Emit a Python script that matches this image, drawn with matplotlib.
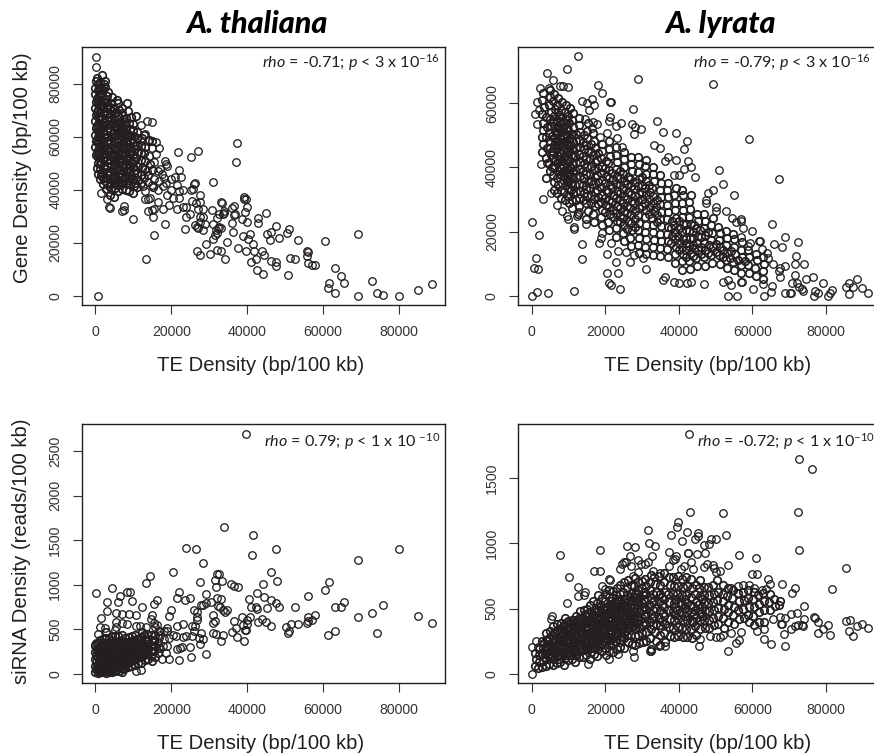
import matplotlib
matplotlib.use("Agg")
from matplotlib import pyplot as plt

W, H = 874, 756

# A. thaliana, gene density vs TE density
tha_gene_sparse = [(260,90400),(180,86400),(600,0),(13300,14000),(15500,22900),(9800,28900),(18300,27200),(37400,57900),(37000,50400),(21800,54500),(25200,52300),(27000,54600),(31100,43100),(14800,65500),(13600,65900),(12000,64400),(69200,23500),(60500,20900),(53400,21100),(50900,25200),(50400,23600),(47600,26500),(45100,23400),(46300,24000),(46000,21000),(48500,21900),(45000,31300),(42900,29300),(42800,27500),(40000,28000),(40000,33600),(39200,36500),(39600,36600),(39100,37500),(39300,31700),(38500,28900),(36800,30900),(36600,30400),(36500,34100),(35900,33100),(36100,27500),(36300,24000),(38900,22800),(40300,21500),(40700,23300),(41400,19600),(39800,16900),(37500,18000),(41700,17100),(43800,16900),(44500,15500),(42400,14100),(41000,12700),(42600,9800),(44100,8200),(46400,13100),(47600,13000),(47700,11300),(50800,8000),(51400,14300),(52600,13800),(55800,17000),(56000,16500),(55800,15000),(55900,12500),(57000,11700),(57900,11800),(63200,10600),(64700,7500),(65400,5000),(61500,4800),(61200,2900),(63000,1100),(69100,100),(73000,5600),(74300,1000),(75700,500),(80000,100),(85100,2100),(88700,4400),
(26800,17100),(27700,15300),(29100,19600),(30200,15700),(32000,17400),(33000,17000),(34200,14000),(34800,20500),(31100,21600),(31500,23000),(28400,24900),(23500,25200),(17000,48000),(18300,51000),(18600,50000),(19000,49000),(17500,46000),(18000,44500),(16500,47000),(15500,44000),(14800,42000),(14000,43000),(13000,39500),(14500,37000),(13200,36600),(14000,36800),(14000,32000),(15000,32500),(15500,32800),(15100,30000),(16500,35300),(17800,32700),(19000,38000),(19300,34500),(20000,40000),(20500,37000),(21000,45000),(21500,42000),(22000,47500),(22500,45000),(22000,39500),(23000,40000),(22000,37000),(21600,32700),(23100,33600),(24000,33500),(23800,30000),(25000,31000),(25200,40000),(25800,40500),(26000,42400),(26200,42500),(25500,36000),(26500,35000),(27000,33000),(27700,38000),(27700,35400),(28400,32800),(27500,30000),(28300,29700),(26300,26700),(26700,26000),(27100,25800),(27700,27900),(29000,27200),(31000,27000),(30700,32500),(32100,29500),(32500,31000),(33200,35500),(33300,35000),(34000,32000),(33500,31000),(34000,31500),(31800,24800),(32200,25500),(32600,26000),(33200,25500),(32000,23800),(15900,58000),(16700,56000),(16000,53500),(14800,56000),(13800,58500),(13000,61000),(14200,53000),(15500,50500),(16800,43500),(17800,41500),(16400,40000),(18700,42500),(19800,44000),(12500,41500),(13500,47000),(3500,33500),(3800,33200),(7000,32000),(7600,32300),(7500,34000),(3200,36500),(1500,39000)]
tha_gene_core = [(100,53200),(-100,56100),(150,58400),(-50,60900),(200,63600),(0,66200),(120,68400),(-80,71100),(160,73300),(30,76200),(-40,78600),(130,81200),(700,46000),(650,50200),(800,52400),(620,55100),(760,57600),(680,60100),(810,62400),(640,65100),(750,67600),(700,70100),(820,72400),(660,75100),(730,77600),(600,80200),(500,82400),(1100,44000),(1300,47800),(1150,50000),(1250,52300),(1050,54400),(1350,56500),(1100,58800),(1300,60700),(1150,62800),(1350,65100),(1050,67200),(1250,69500),(1100,71600),(1300,73800),(1150,76100),(1350,78400),(1200,80600),(1900,42200),(2100,44600),(1800,46900),(2200,49100),(1950,51200),(2150,53500),(1850,55600),(2050,57800),(2200,60100),(1900,62200),(2150,64500),(1800,66700),(2100,68900),(1950,71000),(2200,73300),(1850,75500),(2050,77700),(2200,79900),(1800,83500),(2500,81000),(2900,40300),(3100,42500),(2800,44700),(3200,46800),(2950,49100),(3150,51300),(2850,53500),(3050,55700),(3250,57800),(2900,60000),(3100,62300),(2800,64500),(3200,66600),(3000,68900),(3150,71000),(2850,73200),(3050,75400),(3300,77000),(3900,38000),(4100,40400),(3800,42600),(4200,44700),(3950,46900),(4150,49000),(3850,51300),(4050,53400),(4250,55600),(3900,57900),(4100,60100),(3800,62200),(4200,64400),(4000,66600),(4150,68800),(3850,71000),(4050,73000),(4300,75000),(4950,37500),(5100,40600),(4800,42800),(5200,45000),(4950,47200),(5150,49300),(4850,51500),(5050,53700),(5250,55900),(4900,58100),(5100,60300),(4800,62500),(5200,64700),(5000,66900),(5150,69000),(4850,71100),(5600,73800),(5950,39500),(6100,41800),(5800,44000),(6200,46200),(5950,48300),(6150,50500),(5850,52700),(6050,54900),(6250,57100),(5900,59300),(6100,61500),(5800,63700),(6200,65800),(6000,68000),(6150,70200),(6000,73000),(6900,40200),(7100,42700),(6800,44900),(7200,47000),(6950,49300),(7150,51400),(6850,53700),(7050,55800),(7250,58000),(6900,60300),(7100,62400),(6800,64600),(7200,66800),(7000,69000),(7150,71000),(7950,40000),(8100,42800),(7800,45100),(8200,47300),(7950,49600),(8150,51700),(7850,54000),(8050,56200),(8250,58300),(7900,60600),(8100,62800),(7800,65000),(8200,67200),(8500,70000),(8400,72700),(8950,39800),(9100,42400),(8800,44700),(9200,47100),(8950,49400),(9150,51600),(8850,53900),(9050,56100),(9250,58400),(8900,60600),(9100,62900),(9000,65300),(9300,67500),(9900,39000),(10100,41600),(9800,44000),(10200,46400),(9900,48700),(10100,51000),(9800,53300),(10200,55600),(9900,58000),(10100,60400),(9800,62700),(10000,65000),(10700,67800),(11000,41000),(11200,43800),(10900,46600),(11100,49200),(10800,51900),(11200,54500),(11000,57100),(11100,59600),(10900,62000),(12100,42800),(11900,45700),(12200,48500),(11900,51300),(12100,54000),(12000,56800),(12200,59500),(12800,60900),(12700,44700),(13000,48000),(13200,51000),(12800,53800),(13100,56400),(14000,45500),(14300,50000),(14100,59000),(15000,47500),(15200,41000),(15000,58500)]
tha_gene_extra = [(500,48500),(450,54000),(500,59000),(450,64000),(500,69500),(450,74500),(1600,45500),(1550,50600),(1650,55000),(1550,59500),(1650,63500),(1550,68000),(1650,72300),(1550,76800),(2500,43500),(2550,48000),(2450,52400),(2550,56700),(2450,61100),(2550,65600),(2450,70000),(2550,74300),(2500,78700),(3500,41500),(3450,45800),(3550,50200),(3450,54500),(3550,59000),(3450,63300),(3550,67700),(3450,72100),(4500,43700),(4550,48100),(4450,52400),(4550,56900),(4450,61300),(4550,65800),(4500,70000),(5500,42900),(5450,47700),(5550,51900),(5450,56400),(5550,60800),(5450,65300),(5550,69600),(6500,43500),(6450,47600),(6550,52200),(6450,56500),(6550,60900),(6450,65200),(7500,43800),(7550,48200),(7450,52700),(7550,57000),(7450,61500),(7550,65800),(8500,43600),(8550,48400),(8450,52800),(8550,57200),(8450,61700),(9500,45500),(9550,50200),(9450,54700),(9550,59200),(10500,42800),(10550,47500),(10450,52400),(10550,56800)]

# A. lyrata, gene density vs TE density
lyr_gene_sparse = [(12700,74600),(4100,69300),(9500,70800),(5800,67300),(29000,67500),(49400,66100),(18000,65800),(19200,63300),(21300,60400),(21500,60400),(27500,58200),(21200,55800),(20900,54600),(24200,53800),(22900,52900),(27200,53500),(28200,52500),(29800,52100),(27800,50300),(34000,54500),(35600,51200),(39300,50800),(42200,48100),(41500,45800),(35000,46000),(33300,47000),(59200,48800),(67200,36400),(51000,39300),(51900,35000),(54900,31300),(44400,37100),(42600,41900),(43300,40100),(41400,39500),(40100,37800),(38700,37700),(39200,42300),(37100,43200),(36300,42100),
(3200,30100),(200,23000),(2000,19000),(1200,11700),(600,8600),(1600,8500),(1400,1100),(0,0),(4400,1000),(11400,1700),(13800,11400),(13800,16300),(11500,21600),(11500,21000),(14900,22400),(20600,13000),(23000,10500),(20500,7200),(23500,7200),(20900,3900),(21700,3300),(23900,2200),(31100,8300),(26800,10600),(27700,12800),(30200,11900),(23400,14100),(25600,13600),(21700,16400),(18200,16400),(18900,17900),(19000,19500),
(35800,4900),(36300,6000),(38700,4300),(40000,4000),(42200,4000),(43300,4500),(46800,3700),(52000,4500),(53500,5000),(54200,3500),(57000,4400),(57200,4400),(53400,0),(55800,0),(60200,2100),(63100,0),(62800,3600),(65100,1400),(65300,3100),(69000,1000),(70300,1000),(70600,1000),(70700,3900),(72100,3900),(72700,2900),(73500,2300),(73900,1700),(74500,5200),(76400,6000),(71700,6500),(74000,10000),(71700,10000),(71800,12600),(72400,16900),(68800,18500),(68000,15300),(66000,16100),(65300,22400),(68800,9400),(67600,8600),(67300,7700),(67600,5800),(65600,10000),(79100,4100),(76700,0),(77100,1600),(78000,800),(80500,0),(81200,800),(81800,1900),(85400,2900),(86300,600),(86400,3900),(87500,2700),(88600,5200),(89800,2600),(91600,900),
(49200,33000),(48000,32200),(47400,29900),(47400,28900),(50200,27600),(50100,26600),(52800,26600),(54400,24200),(55600,22900),(57000,23900),(57000,23200),(57600,21300),(59900,20300),(56900,18500),(58800,15700),(59400,16600),(61900,17200),(62100,17200),(62600,14500),(63900,13300),(64400,11700),
(13600,60700),(15000,60000),(16300,61300),(17000,59600),(15700,57900),(14400,55000),(16800,54300),(17700,53600),(16300,52200),(18600,49600),(20400,50700),(23100,49100),(24500,46500),(4600,64700),(7700,65400),(8600,65500),(10000,65200),(2300,64700),(1500,60500),(2100,57900),(900,56700),(1500,53500),(2500,41000),(4100,41300),(5200,32200),(6800,28200),(8300,26500),(9500,25000),(10000,24000),(12200,25000),(13000,26000)]
lyr_gene_core = [(2900,44900),(3100,47300),(2800,49500),(3200,51800),(3000,54000),(2700,56500),(3300,58800),(2900,61000),(3100,63300),(4000,36700),(5000,39000),(4800,41500),(5200,43800),(4900,46100),(5100,48300),(4800,50600),(5300,52800),(4900,55100),(5200,57400),(4800,59600),(5100,61900),(5000,64100),(6000,33000),(6200,35500),(5900,37800),(6100,40100),(6300,42400),(5900,44700),(6200,47000),(6000,49200),(6300,51500),(5900,53800),(6100,56000),(6300,58300),(5900,60600),(6200,62900),(6800,32000),(7100,34400),(6900,36700),(7200,39000),(6800,41300),(7100,43500),(6900,45800),(7200,48100),(6800,50400),(7100,52600),(6900,54900),(7200,57200),(6800,59500),(7100,61700),(8100,30500),(7900,33000),(8200,35300),(7900,37600),(8100,39900),(8300,42100),(7900,44400),(8200,46700),(8000,49000),(8300,51200),(7900,53500),(8200,55800),(8000,58000),(8300,60300),(9100,30000),(8900,32300),(9200,34600),(8900,36900),(9100,39200),(9300,41400),(8900,43700),(9200,46000),(9000,48300),(9300,50500),(8900,52800),(9200,55100),(9000,57300),(9300,59600),(10100,28800),(9900,31100),(10200,33400),(9900,35700),(10100,38000),(10300,40200),(9900,42500),(10200,44800),(10000,47100),(10300,49300),(9900,51600),(10200,53900),(10000,56100),(10300,58400),(11100,27500),(10900,29800),(11200,32100),(10900,34400),(11100,36700),(11300,38900),(10900,41200),(11200,43500),(11000,45800),(11300,48000),(10900,50300),(11200,52600),(11000,54800),(11300,57100),(12500,25500),(13000,28000),(12800,30400),(13200,32700),(12900,35000),(13100,37200),(12800,39500),(13200,41800),(12900,44100),(13100,46300),(12800,48600),(13200,50900),(13000,53100),(12900,55400),(14800,24000),(15200,26500),(14900,28800),(15100,31100),(14800,33400),(15200,35600),(14900,37900),(15100,40200),(14800,42500),(15200,44700),(14900,47000),(15100,49300),(15000,51500),(15300,53800),(17000,23000),(16800,25600),(17200,27900),(16900,30200),(17100,32500),(16800,34800),(17200,37000),(16900,39300),(17100,41600),(16800,43900),(17200,46100),(17000,48400),(16800,50700),(19100,22000),(18900,24600),(19200,26900),(18900,29200),(19100,31500),(18800,33800),(19200,36000),(18900,38300),(19100,40600),(18800,42900),(19200,45100),(19000,47400),(21000,20500),(20800,23000),(21200,25400),(20900,27700),(21100,30000),(20800,32300),(21200,34600),(20900,36800),(21100,39100),(20800,41400),(21200,43700),(21000,45900),(21100,48200),(23000,18500),(22800,21200),(23200,23500),(22900,25800),(23100,28100),(22800,30400),(23200,32600),(22900,34900),(23100,37200),(22800,39500),(23200,41700),(23000,44000),(22900,46300),(25100,17200),(24900,19700),(25200,22000),(24900,24300),(25100,26600),(24800,28900),(25200,31200),(24900,33400),(25100,35700),(24800,38000),(25200,40300),(25000,42500),(25100,44800),(27000,15500),(26800,18200),(27200,20500),(26900,22800),(27100,25100),(26800,27400),(27200,29700),(26900,31900),(27100,34200),(26800,36500),(27200,38800),(27000,41000),(26900,43300),(29100,13300),(28900,15900),(29200,18200),(28900,20500),(29100,22800),(28800,25100),(29200,27400),(28900,29600),(29100,31900),(28800,34200),(29200,36500),(29000,38700),(29100,41000),(28900,43200),(31000,13000),(30800,15300),(31200,17600),(30900,19900),(31100,22200),(30800,24500),(31200,26800),(30900,29000),(31100,31300),(30800,33600),(31200,35900),(31000,38100),(30900,40400),(31100,42400),(33100,12800),(32900,15200),(33200,17500),(32900,19800),(33100,22100),(32800,24400),(33200,26600),(32900,28900),(33100,31200),(32800,33500),(33200,35700),(33000,38000),(33100,40200),(35000,12300),(34800,14800),(35200,17100),(34900,19400),(35100,21700),(34800,24000),(35200,26200),(34900,28500),(35100,30800),(34800,33100),(35200,35300),(35000,37600),(37100,12000),(36900,14700),(37200,17000),(36900,19300),(37100,21600),(36800,23900),(37200,26100),(36900,28400),(37100,30700),(36800,33000),(37200,35200),(39100,10300),(38900,13000),(39200,15300),(38900,17600),(39100,19900),(38800,22200),(39200,24400),(38900,26700),(39100,29000),(38800,31300),(39200,33500),(41000,8200),(40800,10800),(41200,13100),(40900,15400),(41100,17700),(40800,20000),(41200,22300),(40900,24500),(41100,26800),(40800,29100),(41200,31400),(41000,33000),(43100,8400),(42900,11000),(43200,13300),(42900,15600),(43100,17900),(42800,20200),(43200,22400),(42900,24700),(43100,27000),(42800,29300),(43200,31500),(45000,9300),(44800,11900),(45200,14200),(44900,16500),(45100,18800),(44800,21100),(45200,23400),(44900,25600),(47100,9400),(46900,12000),(47200,14300),(46900,16600),(47100,18900),(46800,21200),(47200,23500),(46900,25500),(49000,10200),(48800,12800),(49200,15100),(48900,17400),(49100,19700),(48800,22000),(49200,24200),(51100,10100),(50900,12800),(51200,15100),(50900,17400),(51100,19700),(50800,21500),(53000,8600),(52800,11200),(53200,13500),(52900,15800),(53100,18100),(52800,20200),(55000,8200),(54800,10700),(55200,13000),(54900,15300),(55100,17600),(54800,19300),(57000,7300),(56800,9800),(57200,12100),(56900,14400),(57100,16700),(59000,7200),(58800,9700),(59200,12000),(58900,14300),(61000,6300),(60800,8800),(61200,11100),(60900,13000),(63000,5300),(62800,7800),(63200,10100),(62900,12000),(7500,47000),(7600,49300),(8600,47800),(8500,50100),(6500,48400),(6600,50700),(9500,45000),(9600,47400),(7500,52000),(8600,52500),(6600,46000),(9600,50000),(10700,47000),(10600,44000),(24000,27500),(26000,25800),(26000,28000),(28000,26500),(24000,25000),(42000,18000),(44000,18000),(44000,20000),(42000,20500),(46000,18500)]
lyr_gene_extra = [(4000,43000),(4100,46200),(3900,49400),(4200,52500),(4000,55800),(5600,40300),(5700,42900),(5500,45200),(5600,49700),(5700,54400),(7500,37900),(7600,40200),(7400,42500),(7500,44700),(7600,54100),(7400,56300),(8600,38500),(8500,40800),(8700,43000),(8500,45300),(8600,54500),(9600,35500),(9700,37700),(9500,40000),(9600,42200),(9700,52400),(9500,54700),(10700,33000),(10600,35200),(10800,37500),(10600,39700),(10700,50500),(12000,30000),(12100,32400),(11900,34700),(12100,36900),(11900,39200),(12100,41400),(11900,43700),(12100,46000),(12000,48300),(12100,50500),(14000,29900),(14100,32200),(13900,34500),(14100,36700),(13900,39000),(14100,41200),(13900,43500),(14100,45800),(14000,48000),(14100,50200),(16000,29000),(16100,31300),(15900,33600),(16100,35800),(15900,38100),(16100,40400),(15900,42600),(16100,44900),(16000,47200),(18000,28500),(18100,30800),(17900,33100),(18100,35400),(17900,37600),(18100,39900),(17900,42200),(18100,44400),(20000,26000),(20100,28300),(19900,30600),(20100,32900),(19900,35100),(20100,37400),(19900,39700),(20100,41900),(22000,24600),(22100,26900),(21900,29200),(22100,31500),(21900,33700),(22100,36000),(21900,38300),(24000,22900),(24100,29800),(23900,32100),(24100,34400),(23900,36600),(24100,38900),(26000,21000),(26100,23300),(25900,30300),(26100,32500),(25900,34800),(26100,37100),(28000,21600),(28100,23900),(27900,28800),(28100,31100),(27900,33400),(28100,35600),(30000,27900),(30100,30200),(29900,32500),(30100,34700),(29900,37000),(32000,25500),(32100,27800),(31900,30100),(32100,32300),(31900,34600),(34000,23000),(34100,25300),(33900,27600),(34100,29900),(38000,16500),(38100,18800),(37900,21100),(38100,23400),(40000,14200),(40100,16500),(39900,18800),(40100,21100),(40000,23300),(42000,12000),(42100,14300),(41900,16500),(42100,22500),(44000,12500),(44100,14800),(43900,16000),(44100,22200),(46000,13100),(46100,15400),(45900,20700),(48000,13500),(48100,15800),(47900,20000),(50000,13800),(50100,16100),(52000,12000),(52100,14300),(54000,11800),(54100,14100),(56000,11200),(58000,10900)]

# A. thaliana, siRNA density vs TE density
tha_sirna_sparse = [(39800,2695),(34000,1653),(41600,1559),(41300,1334),(47600,1402),(23900,1413),(26400,1398),(28400,1248),(69200,1278),(80000,1398),(20400,1143),(14400,1098),(13300,1016),(32000,1117),(32700,1124),(31500,1053),(33300,1038),(31900,971),(27700,1027),(35800,1008),(36600,982),(37600,978),(44200,1012),(46300,1147),(47800,1038),(61500,1027),(60400,941),(55900,870),(22000,918),(29100,896),(42700,911),(44500,866),(46200,825),(47600,791),(48500,753),(52600,746),(40400,836),(41000,753),(42400,753),(42700,723),(45200,735),(63200,753),(64600,753),(65400,802),(75700,772),(73000,678),(69100,637),(85100,645),(88700,566),(74300,457),(63000,476),(61300,438),(57800,656),(57100,603),(56100,596),(55800,566),(55900,633),(53500,555),(51500,555),(50200,528),(50900,483),(50800,461),(46400,540),(45000,577),(43800,618),(42800,585),(40800,637),(39900,603),(38700,633),(40000,562),(39000,547),(39400,491),(39600,488),(39200,371),(37400,412),(37000,510),(36100,472),(36500,596),(34800,716),(34200,697),(33500,716),(32800,753),(32400,765),(32100,847),(33000,836),(30400,810),(29100,791),(27800,768),(28400,772),(26000,712),(26900,697),(26900,633),(26700,603),(26300,536),(25500,536),(24900,855),(23600,828),(21600,847),(20000,716),(19300,652),(21600,540),(23100,562),(30900,656),(31100,566),(31500,596),(30900,453),(31800,450),(33600,438),(33000,364),(29200,225),(25300,191),(22000,154),(27600,330),(27400,397),(25400,423),(28400,390),(23000,408),(21200,423),(24900,304),(22800,304),(21400,274),(22200,285),
(200,903),(4500,967),(8300,915),(9100,918),(6600,877),(5900,802),(3000,810),(9700,821),(3200,708),(5400,678),(1500,626),(7100,667),(8900,675),(10700,663),(12400,753),(15500,780),(16200,828),(14800,656),(14700,618),(5400,585),(6900,566),(8300,558),(5400,528),(1200,528),(2500,510),(600,442),(5200,491),(10600,536),(11700,536),(13300,528),(16200,547),(15800,530),(18800,510),(15500,566),(100,341),(0,315),(12000,40),(10800,25),(19400,170),(17500,160),(18500,230),(19000,310),(17800,310),(18200,390),(17000,440),(19500,400),(20500,430),(18000,480),(16800,400),(19000,480),(24000,420),(26000,480),(27800,460)]
tha_sirna_core = [(-200,20),(100,50),(-100,90),(200,130),(0,170),(-150,240),(-200,320),(700,10),(800,50),(600,100),(850,140),(700,190),(800,240),(650,290),(800,340),(1300,15),(1200,60),(1400,110),(1150,160),(1350,210),(1200,270),(1400,320),(1300,380),(1900,20),(2100,70),(1800,120),(2200,170),(1900,230),(2100,280),(1800,340),(2200,400),(2800,10),(2700,60),(3000,115),(2700,170),(2900,225),(2700,285),(3000,340),(2800,400),(2900,470),(3600,20),(3500,70),(3800,120),(3500,175),(3700,230),(3500,290),(3800,345),(3600,400),(4400,15),(4400,65),(4600,125),(4300,180),(4500,235),(4300,290),(4600,350),(4400,420),(5300,25),(5200,80),(5400,135),(5100,190),(5300,250),(5100,305),(5400,360),(5200,420),(6200,30),(6000,85),(6200,145),(5900,200),(6100,255),(5900,310),(6200,365),(6000,425),(7000,20),(6900,100),(7100,155),(6800,210),(7000,270),(6800,325),(7100,380),(6900,440),(7800,65),(7700,120),(7900,175),(7600,230),(7800,285),(7600,340),(7900,400),(8700,75),(8500,130),(8800,185),(8500,240),(8700,300),(8500,355),(8800,410),(9500,90),(9300,145),(9600,200),(9300,255),(9500,310),(9300,365),(9600,425),(10400,100),(10200,155),(10500,210),(10200,265),(10400,325),(10200,380),(10500,440),(11200,125),(11000,175),(11300,230),(11000,285),(11200,340),(11000,395),(12100,125),(11900,190),(12200,245),(11900,300),(12100,355),(11900,410),(12200,470),(13000,155),(12800,215),(13100,270),(12800,325),(13000,380),(12800,440),(13900,165),(13700,225),(14000,280),(13700,335),(13900,390),(13700,450),(14800,140),(14600,200),(14900,260),(14600,320),(14800,375),(14600,440),(15700,190),(15500,250),(15800,310),(15500,365),(15700,430),(16500,230),(16700,290),(16400,350),(16700,480),(1000,25),(2400,40),(3200,35),(4000,45),(600,70),(1600,90),(2400,95),(3200,90),(4800,95),(5700,55),(6500,60),(7300,55),(1600,140),(2400,145),(3200,145),(4000,150),(4800,155),(5600,165),(6500,120),(7300,130),(8100,100)]
tha_sirna_extra = [(300,210),(350,280),(1000,230),(1050,300),(1700,260),(1650,200),(2400,200),(2450,250),(2350,310),(3200,200),(3250,260),(3150,315),(4000,205),(4050,265),(3950,320),(4800,220),(4850,275),(4750,330),(5700,230),(5650,285),(6500,240),(6550,300),(6450,350),(7300,200),(7350,260),(7250,315),(8200,150),(8150,210),(8250,265),(8150,320),(9000,170),(9050,225),(8950,280),(9050,335),(9900,180),(9950,235),(9850,290),(10800,200),(10750,255),(10850,310),(11600,210),(11650,265),(11550,320),(12500,235),(12450,290),(13400,250),(13350,300)]

# A. lyrata, siRNA density vs TE density
lyr_sirna_sparse = [(42700,1838),(72700,1649),(76300,1569),(72400,1242),(43000,1244),(52100,1234),(72600,947),(85500,809),(81600,653),(7600,911),(10200,742),(18600,947),(31700,1106),(39800,1165),(39500,1129),(37800,1067),(42300,1088),(40800,1019),(45300,1080),(45200,1057),(44300,1037),(46800,986),(48100,993),(48900,1034),(50100,1037),(52900,1065),(25800,983),(28200,970),(32000,1003),(33600,980),(32700,901),(26800,903),(37400,937),(39300,906),(42400,924),(42600,924),(45000,916),(47100,926),(56400,911),(61000,891),(53300,834),(49400,834),(60000,768),(61300,763),(68200,691),(71700,660),(70700,617),(64400,730),(17000,791),(18600,788),(12700,668),(12600,596),(14400,627),(14100,600),(9500,540),(5400,445),(5200,417),(200,205),(1300,253),(0,0),(1600,207),
(53400,177),(55600,233),(56500,256),(63200,266),(65100,228),(69000,215),(68700,302),(61400,328),(63200,340),(65700,420),(67600,433),(68900,428),(67800,379),(68200,379),(70500,340),(71700,369),(70400,456),(72100,468),(72300,376),(73500,376),(73700,366),(74000,417),(74000,522),(76800,433),(77100,428),(78000,400),(77900,315),(79200,346),(80700,374),(81200,300),(85500,407),(86500,410),(86200,328),(87400,292),(88500,364),(89800,384),(91600,353),(48500,292),(50000,280),(51200,278),(52000,298),(54200,310),(56900,322),(45500,215),(45800,264),(34500,212),(36200,215),(32200,177),(32500,177),(27600,177),(27700,125),(21000,115),(23400,148),(15400,72),(28800,870),(29700,840),(30700,840),(31500,860),(33000,790),(35000,770),(37300,830),(38300,870),(39000,880),(40500,800),(41400,830),(43300,860),(44000,800),(47000,820),(47800,840),(49500,810),(50100,780),(51300,790),(24000,800),(25000,860),(25700,860),(27000,830),(27500,750),(29000,780),(24500,840),(21000,730),(21300,720),(19000,670),(20000,650),(54200,660),(56000,670),(57500,680),(59000,680),(60500,660),(62700,640),(63800,650),(64700,690)]
lyr_sirna_core = [(1000,60),(1100,110),(900,160),(1800,40),(2000,90),(1900,140),(2100,190),(2800,50),(3000,100),(2900,150),(3100,200),(2800,250),(3800,60),(4000,110),(3900,160),(4100,210),(3800,260),(4000,310),(4800,75),(5000,125),(4900,175),(5100,225),(4800,275),(5000,325),(5800,65),(6000,115),(5900,165),(6100,215),(5800,265),(6000,315),(5900,365),(6800,85),(7000,135),(6900,185),(7100,235),(6800,285),(7000,335),(6900,385),(7800,90),(8000,140),(7900,190),(8100,240),(7800,290),(8000,340),(7900,390),(8900,65),(9000,120),(8900,170),(9100,220),(8800,270),(9000,320),(8900,370),(9100,425),(9800,105),(10000,155),(9900,205),(10100,255),(9800,305),(10000,355),(9900,405),(10900,115),(11000,165),(10900,215),(11100,265),(10800,315),(11000,365),(10900,415),(11800,90),(12000,140),(11900,190),(12100,240),(11800,290),(12000,340),(11900,390),(12100,440),(12900,125),(13000,175),(12900,225),(13100,275),(12800,325),(13000,375),(12900,425),(13100,480),(13900,130),(14000,180),(13900,230),(14100,280),(13800,330),(14000,380),(13900,430),(14100,485),(14900,140),(15000,190),(14900,240),(15100,290),(14800,340),(15000,390),(14900,440),(15100,495),(15900,110),(16000,170),(15900,220),(16100,270),(15800,320),(16000,370),(15900,420),(16100,475),(15800,530),(16900,150),(17000,200),(16900,250),(17100,300),(16800,350),(17000,400),(16900,450),(17100,500),(16800,555),(17900,135),(18000,190),(17900,240),(18100,290),(17800,340),(18000,390),(17900,440),(18100,490),(17800,545),(18000,600),(19000,175),(19100,225),(18900,275),(19200,325),(19000,375),(18900,425),(19100,475),(18900,525),(19100,580),(20100,145),(20000,200),(20200,250),(19900,300),(20100,350),(19900,400),(20200,450),(20000,500),(19900,555),(20100,610),(21100,175),(21000,230),(21200,280),(20900,330),(21100,380),(20900,430),(21200,480),(21000,530),(20900,585),(21100,640),(22100,170),(22000,225),(22200,275),(21900,325),(22100,375),(21900,425),(22200,475),(22000,525),(21900,580),(22100,635),(23200,190),(23000,245),(23200,295),(22900,345),(23100,395),(22900,445),(23200,495),(23000,545),(22900,600),(23100,660),(24100,205),(24000,260),(24200,310),(23900,360),(24100,410),(23900,460),(24200,510),(24000,560),(23900,615),(24100,680),(25200,195),(25000,270),(25200,320),(24900,370),(25100,420),(24900,470),(25200,520),(25000,570),(24900,630),(25100,700),(26200,240),(26000,300),(26200,350),(25900,400),(26100,450),(25900,500),(26200,550),(26000,600),(25900,660),(26100,720),(27200,225),(27000,300),(27200,360),(26900,410),(27100,460),(26900,510),(27200,560),(27000,620),(26900,680),(28200,220),(28000,290),(28200,350),(27900,400),(28100,450),(27900,505),(28200,560),(28000,615),(27900,675),(28100,735),(29200,235),(29000,300),(29200,360),(28900,415),(29100,470),(28900,525),(29200,580),(29000,640),(28900,700),(30200,240),(30000,310),(30200,370),(29900,430),(30100,485),(29900,540),(30200,600),(30000,655),(29900,715),(31200,250),(31000,320),(31200,380),(30900,440),(31100,500),(30900,555),(31200,610),(31000,670),(30900,730),(32500,190),(32300,270),(32500,340),(32200,400),(32400,460),(32200,520),(32500,580),(32300,640),(32200,700),(32400,755),(33700,250),(33500,320),(33700,385),(33400,445),(33600,505),(33400,565),(33700,625),(33500,685),(33400,745),(35000,220),(34800,300),(35000,370),(34700,430),(34900,490),(34700,555),(35000,615),(34800,680),(34700,750),(36200,240),(36000,310),(36200,380),(35900,445),(36100,510),(35900,570),(36200,630),(36000,700),(35900,770),(37500,290),(37300,355),(37500,420),(37200,485),(37400,550),(37200,610),(37500,680),(37300,745),(38700,285),(38500,350),(38700,415),(38400,480),(38600,545),(38400,610),(38700,675),(38500,745),(39900,290),(39700,355),(39900,420),(39600,485),(39800,545),(39600,610),(39900,675),(39700,750),(41100,285),(40900,350),(41100,415),(40800,475),(41000,535),(40800,600),(41100,665),(40900,730),(42300,280),(42100,345),(42300,410),(42000,475),(42200,540),(42000,600),(42300,670),(42100,745),(43500,270),(43300,340),(43500,405),(43200,470),(43400,530),(43200,590),(43500,655),(43300,725),(44700,300),(44500,365),(44700,430),(44400,490),(44600,550),(44400,610),(44700,680),(45900,345),(45700,410),(45900,475),(45600,535),(45800,595),(45600,655),(45900,720),(47100,350),(46900,415),(47100,480),(46800,540),(47000,600),(46800,665),(48300,350),(48100,415),(48300,480),(48000,540),(48200,600),(48000,665),(49600,370),(49400,430),(49600,490),(49300,550),(49500,610),(49300,680),(50800,385),(50600,445),(50800,505),(50500,565),(50700,625),(50500,720),(52200,350),(52000,430),(52200,495),(51900,555),(52100,615),(51900,680),(53500,400),(53300,470),(53500,530),(53200,595),(53400,660),(54900,380),(54700,450),(54900,515),(54600,580),(54800,640),(56300,420),(56100,490),(56300,555),(56000,620),(57700,430),(57500,500),(57700,565),(57400,630),(59100,400),(58900,450),(59100,515),(58800,580),(58900,640),(60500,370),(60300,440),(60500,510),(60200,575),(60400,625),(61900,400),(61700,470),(61900,535),(61600,605),(63300,400),(63100,490),(63300,560),(63000,620),(64700,490),(64500,550),(64800,610),(66100,520),(66000,570),(67300,530),(67500,560)]
lyr_sirna_extra = [(3400,130),(3500,185),(3350,235),(4400,140),(4500,195),(4400,250),(5400,145),(5500,195),(5400,245),(5450,300),(6400,150),(6500,210),(6400,260),(6450,310),(7400,110),(7500,165),(7400,215),(7450,265),(7400,315),(8400,165),(8500,215),(8400,265),(8450,315),(8400,365),(9400,140),(9500,190),(9400,240),(9450,290),(9400,340),(9400,390),(10400,140),(10500,190),(10400,240),(10450,290),(10400,340),(10400,390),(11400,165),(11500,215),(11400,265),(11450,315),(11400,365),(11400,415),(12400,160),(12500,210),(12400,260),(12450,310),(12400,360),(12400,410),(13400,205),(13500,255),(13400,305),(13450,355),(13400,405),(14400,210),(14500,260),(14400,310),(14450,360),(14400,410),(14400,460),(15400,215),(15500,265),(15400,315),(15450,365),(15400,415),(15400,465),(16400,195),(16500,245),(16400,295),(16450,345),(16400,395),(16400,445),(17400,225),(17500,275),(17400,325),(17450,375),(17400,425),(17400,475),(18500,215),(18600,265),(18500,315),(18550,365),(18500,415),(18500,465),(18500,515),(19500,250),(19600,300),(19500,350),(19550,400),(19500,450),(19500,500),(20600,265),(20700,315),(20600,365),(20650,415),(20600,465),(20600,515),(21600,255),(21700,305),(21600,355),(21650,405),(21600,455),(21600,505),(21600,555),(22600,250),(22700,300),(22600,350),(22650,400),(22600,450),(22600,500),(22600,550),(23600,320),(23700,370),(23600,420),(23650,470),(23600,520),(23600,570),(24600,290),(24700,345),(24600,395),(24650,445),(24600,495),(24600,545),(25700,325),(25800,375),(25700,425),(25750,475),(25700,525),(25700,575),(26700,380),(26800,430),(26700,480),(26750,530),(26700,590),(27700,375),(27800,425),(27700,475),(27750,530),(27700,585),(28700,385),(28800,440),(28700,495),(28750,550),(28700,610),(30600,400),(30700,460),(30600,515),(30650,575),(30600,630),(32900,370),(33000,430),(32900,490),(32950,550),(32900,610),(35500,405),(35600,465),(35500,525),(35550,590),(39000,450),(39100,515),(39000,575),(41700,445),(41800,505),(41700,570),(44000,400),(44100,460),(44000,520),(46300,445),(46400,510),(46300,570)]

x_ticks = [0, 20000, 40000, 60000, 80000]
gene_tha_ticks = [0, 20000, 40000, 60000, 80000]
gene_lyr_ticks = [0, 20000, 40000, 60000]
sirna_tha_ticks = [0, 500, 1000, 1500, 2000, 2500]
sirna_lyr_ticks = [0, 500, 1000, 1500]

plt.rcParams['font.family'] = ['Liberation Sans', 'DejaVu Sans']
plt.rcParams['mathtext.fontset'] = 'custom'
plt.rcParams['mathtext.rm'] = 'Lato'
plt.rcParams['mathtext.it'] = 'Lato:italic'
plt.rcParams['mathtext.default'] = 'regular'

fig = plt.figure(figsize=(W / 100, H / 100), dpi=100)
ink = '#231f20'


def panel(left, top, right, bottom, xlim, ylim, yticks, sparse, dense):
    ax = fig.add_axes([left / W, 1 - bottom / H, (right - left) / W, (bottom - top) / H])
    ax.plot([p[0] for p in sparse], [p[1] for p in sparse], 'o', ms=5.4, mfc='none', mec=ink, mew=0.95)
    # the real cloud holds far more points than were typed, heavier rings make up for it
    ax.plot([p[0] for p in dense], [p[1] for p in dense], 'o', ms=5.4, mfc='none', mec=ink, mew=1.25)
    ax.set_xlim(xlim)
    ax.set_ylim(ylim)
    ax.set_xticks(x_ticks)
    ax.set_yticks(yticks)
    ax.tick_params(axis='x', length=6.5, width=0.8, pad=8, labelsize=10.2, colors='#333333')
    ax.tick_params(axis='y', length=6.5, width=0.8, pad=7.5, labelsize=10.2, colors='#333333')
    for lab in ax.get_yticklabels():
        lab.set_rotation(90)
        lab.set_va('center')
    for s in ax.spines.values():
        s.set_linewidth(1.0)
        s.set_color(ink)
    return ax


panel(81.7, 46.7, 445, 305, (-3590, 92100), (-3400, 94100), gene_tha_ticks, tha_gene_sparse, tha_gene_core + tha_gene_extra)
ax_tr = panel(518.3, 46.7, 874, 305, (-3640, 93100), (-2800, 77600), gene_lyr_ticks, lyr_gene_sparse, lyr_gene_core + lyr_gene_extra)
panel(81.7, 424.3, 445, 683.3, (-3590, 92100), (-108, 2803), sirna_tha_ticks, tha_sirna_sparse, tha_sirna_core + tha_sirna_extra)
ax_br = panel(518.3, 424.3, 874, 683.3, (-3640, 93100), (-74, 1914), sirna_lyr_ticks, lyr_sirna_sparse, lyr_sirna_core + lyr_sirna_extra)
ax_tr.spines['right'].set_visible(False)
ax_br.spines['right'].set_visible(False)


def put(px, py, s, **kw):
    fig.text(px / W, 1 - py / H, s, **kw)


put(257, 33, 'A. thaliana', family='Lato', weight='black', style='italic', size=22, ha='center', color='black')
put(721, 33, 'A. lyrata', family='Lato', weight='black', style='italic', size=22, ha='center', color='black')

for cx in (260.7, 707.5):
    put(cx, 371, 'TE Density (bp/100 kb)', size=14.6, ha='center', color=ink)
    put(cx, 749, 'TE Density (bp/100 kb)', size=14.6, ha='center', color=ink)
put(23, 168, 'Gene Density (bp/100 kb)', size=14.6, rotation=90, ha='center', va='center', color=ink)
put(22, 551, 'siRNA Density (reads/100 kb)', size=14.6, rotation=90, ha='center', va='center', color=ink)

rho_kw = dict(family='Lato', size=11.6, color=ink)
put(440, 68, r'$\mathit{rho}$ = -0.71; $\mathit{p}$ < 3 x 10$^{-16}$', ha='right', **rho_kw)
put(870.7, 68, r'$\mathit{rho}$ = -0.79; $\mathit{p}$ < 3 x 10$^{-16}$', ha='right', **rho_kw)
put(440, 447, r'$\mathit{rho}$ = 0.79; $\mathit{p}$ < 1 x 10 $^{-10}$', ha='right', **rho_kw)
put(697, 447, r'$\mathit{rho}$ = -0.72; $\mathit{p}$ < 1 x 10$^{-10}$', ha='left', **rho_kw)

fig.savefig('out.png', dpi=100)
